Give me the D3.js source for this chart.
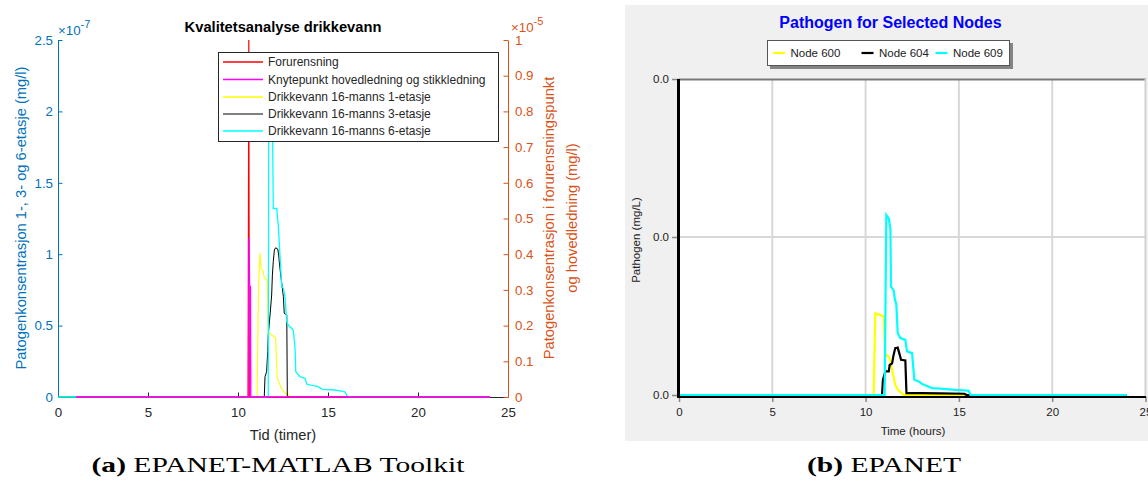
<!DOCTYPE html>
<html><head><meta charset="utf-8">
<script src="https://cdn.jsdelivr.net/npm/d3@7"></script>
<style>
body{margin:0;background:#fff}
svg{display:block}
text{font-family:"Liberation Sans",Arial,Helvetica,sans-serif}
</style>
</head><body>
<svg id="c" width="1148" height="481"></svg>
<script>
// ---------------- DATA ----------------
// Panel (a): EPANET-MATLAB Toolkit (time in hours)
const xTicksA = [0, 5, 10, 15, 20, 25];
const leftTicks = [0, 0.5e-7, 1e-7, 1.5e-7, 2e-7, 2.5e-7];
const leftTickLabels = ["0", "0.5", "1", "1.5", "2", "2.5"];
const rightTicks = [0, 0.1e-5, 0.2e-5, 0.3e-5, 0.4e-5, 0.5e-5, 0.6e-5, 0.7e-5, 0.8e-5, 0.9e-5, 1e-5];
const rightTickLabels = ["0", "0.1", "0.2", "0.3", "0.4", "0.5", "0.6", "0.7", "0.8", "0.9", "1"];
const seriesNamesA = ["Forurensning", "Knytepunkt hovedledning og stikkledning",
  "Drikkevann 16-manns 1-etasje", "Drikkevann 16-manns 3-etasje", "Drikkevann 16-manns 6-etasje"];

// right axis (mg/l)
const forurensningT = [1, 10.56, 10.6, 10.63, 24];
const forurensningV = [0, 0, 1.0e-5, 0, 0];
const knytepunktT = [1, 10.58, 10.61, 10.64, 10.69, 10.71, 24];
const knytepunktV = [0, 0, 0.445e-5, 0.31e-5, 0.31e-5, 0, 0];

// left axis (mg/l)
const etasje1T = [0, 11.06, 11.13, 11.22, 11.28, 11.41, 11.46, 11.63, 11.68, 11.87, 12.09, 12.18, 12.33, 12.52, 12.79, 12.85, 24];
const etasje1V = [0, 0, 0.714e-7, 1.008e-7, 0.903e-7, 0.877e-7, 0.833e-7, 0.819e-7, 0.457e-7, 0.434e-7, 0.413e-7, 0.133e-7, 0.084e-7, 0.037e-7, 0.014e-7, 0, 0];
const etasje3T = [0, 11.46, 11.5, 11.59, 11.65, 11.68, 11.78, 11.87, 11.91, 11.96, 12.02, 12.09, 12.21, 12.26, 12.33, 12.43, 12.52, 12.57, 12.71, 12.74, 24];
const etasje3V = [0, 0, 0.142e-7, 0.177e-7, 0.317e-7, 0.434e-7, 0.574e-7, 0.714e-7, 0.854e-7, 0.947e-7, 1.029e-7, 1.045e-7, 1.036e-7, 0.994e-7, 0.901e-7, 0.796e-7, 0.703e-7, 0.586e-7, 0.574e-7, 0, 0];
const etasje6T = [0, 11.68, 11.71, 11.9, 11.96, 12.15, 12.24, 12.43, 12.52, 12.61, 12.71, 12.79, 13.07, 13.17, 13.21, 13.44, 13.72, 13.82, 14.46, 14.68, 15.39, 15.94, 16.09, 24];
const etasje6V = [0, 0, 2.2e-7, 2.15e-7, 1.32e-7, 1.32e-7, 1.20e-7, 0.772e-7, 0.761e-7, 0.702e-7, 0.527e-7, 0.504e-7, 0.469e-7, 0.343e-7, 0.177e-7, 0.142e-7, 0.131e-7, 0.089e-7, 0.072e-7, 0.054e-7, 0.049e-7, 0.037e-7, 0, 0];

// Panel (b): EPANET
const xTicksB = [0, 5, 10, 15, 20, 25];
const yTicksB = [0, 1e-7, 2e-7];
const yTickLabelsB = ["0.0", "0.0", "0.0"];
const seriesNamesB = ["Node 600", "Node 604", "Node 609"];
const node600T = [0, 10.43, 10.52, 10.75, 10.97, 11.06, 11.24, 11.33, 11.47, 11.59, 11.72, 12.04, 24];
const node600V = [0, 0, 0.517e-7, 0.507e-7, 0.497e-7, 0.254e-7, 0.244e-7, 0.213e-7, 0.128e-7, 0.065e-7, 0.034e-7, 0, 0];
const node604T = [0, 10.88, 10.93, 11.06, 11.24, 11.29, 11.42, 11.5, 11.59, 11.72, 11.83, 11.9, 12.13, 12.19, 13.0, 14.0, 15.3, 15.4, 24];
const node604V = [0, 0, 0.097e-7, 0.15e-7, 0.15e-7, 0.19e-7, 0.20e-7, 0.254e-7, 0.297e-7, 0.30e-7, 0.254e-7, 0.223e-7, 0.219e-7, 0.012e-7, 0.012e-7, 0.01e-7, 0.008e-7, 0, 0];
const node609T = [0, 11.02, 11.11, 11.24, 11.33, 11.36, 11.5, 11.56, 11.65, 11.72, 11.86, 12.13, 12.22, 12.49, 12.61, 12.85, 13.03, 13.26, 13.56, 14.01, 14.81, 15.53, 15.62, 24];
const node609V = [0, 0, 1.138e-7, 1.117e-7, 1.054e-7, 0.686e-7, 0.664e-7, 0.612e-7, 0.57e-7, 0.391e-7, 0.36e-7, 0.349e-7, 0.276e-7, 0.265e-7, 0.097e-7, 0.086e-7, 0.069e-7, 0.059e-7, 0.044e-7, 0.04e-7, 0.033e-7, 0.027e-7, 0, 0];

// ---------------- DRAW ----------------
const svg = d3.select("#c");
svg.append("rect").attr("width", 1148).attr("height", 481).attr("fill", "#fff");
const zip = (T, V) => T.map((t, i) => [t, V[i]]);

// ===== Panel (a) =====
const BLUE = "#0072BD", ORANGE = "#D95319", AX = "#262626";
const xA = d3.scaleLinear().domain([0, 25]).range([58, 508]);
const yL = d3.scaleLinear().domain([0, 2.5e-7]).range([397, 40]);
const yR = d3.scaleLinear().domain([0, 1e-5]).range([397, 40]);
const gA = svg.append("g");

function styleAxis(g, col, fs) {
  g.attr("font-family", null).attr("font-size", null);
  g.selectAll("path.domain").attr("stroke", col).attr("stroke-width", 1);
  g.selectAll(".tick line").attr("stroke", col).attr("stroke-width", 1);
  g.selectAll(".tick text").attr("fill", col).style("font-size", fs + "px");
}

const axB = gA.append("g").attr("transform", "translate(0,397)")
  .call(d3.axisBottom(xA).tickValues(xTicksA).tickSize(-4.5).tickSizeOuter(0).tickPadding(11));
styleAxis(axB, AX, 13.3);
const axL = gA.append("g").attr("transform", "translate(58,0)")
  .call(d3.axisLeft(yL).tickValues(leftTicks).tickSize(-4.5).tickSizeOuter(0).tickPadding(5)
    .tickFormat((d, i) => leftTickLabels[i]));
styleAxis(axL, BLUE, 13.3);
const axR = gA.append("g").attr("transform", "translate(508,0)")
  .call(d3.axisRight(yR).tickValues(rightTicks).tickSize(-4.5).tickSizeOuter(0).tickPadding(7)
    .tickFormat((d, i) => rightTickLabels[i]));
styleAxis(axR, ORANGE, 13.3);

const lineL = d3.line().x(d => xA(d[0])).y(d => yL(d[1]));
const lineR = d3.line().x(d => xA(d[0])).y(d => yR(d[1]));
const colsA = ["#ff0000", "#ff00ff", "#ffff00", "#000000", "#00ffff"];
gA.append("path").attr("d", lineL(zip(etasje1T, etasje1V))).attr("fill", "none").attr("stroke", colsA[2]).attr("stroke-width", 1.1);
gA.append("path").attr("d", lineL(zip(etasje3T, etasje3V))).attr("fill", "none").attr("stroke", colsA[3]).attr("stroke-width", 1);
gA.append("path").attr("d", lineL(zip(etasje6T, etasje6V))).attr("fill", "none").attr("stroke", colsA[4]).attr("stroke-width", 1.3);
gA.append("path").attr("d", lineR(zip(forurensningT, forurensningV))).attr("fill", "none").attr("stroke", colsA[0]).attr("stroke-width", 1.2);
gA.append("path").attr("d", lineR(zip(knytepunktT, knytepunktV))).attr("fill", "none").attr("stroke", colsA[1]).attr("stroke-width", 1.4);

// exponents
function expLabel(x, y, base, exp, col) {
  const t = gA.append("text").attr("x", x).attr("y", y).attr("fill", col).style("font-size", "13.3px");
  t.append("tspan").text(base);
  t.append("tspan").attr("dy", -7).style("font-size", "11px").text(exp);
}
expLabel(58, 34.5, "\u00d710", "-7", BLUE);
expLabel(511, 32, "\u00d710", "-5", ORANGE);

// title
gA.append("text").attr("x", 283).attr("y", 32).attr("text-anchor", "middle")
  .style("font-size", "14.7px").style("font-weight", "bold").attr("fill", "#000")
  .text("Kvalitetsanalyse drikkevann");
// axis labels
gA.append("text").attr("x", 283).attr("y", 440).attr("text-anchor", "middle")
  .style("font-size", "14.7px").attr("fill", AX).text("Tid (timer)");
gA.append("text").attr("transform", "translate(26,218) rotate(-90)").attr("text-anchor", "middle")
  .style("font-size", "14.7px").attr("fill", BLUE).text("Patogenkonsentrasjon 1-, 3- og 6-etasje (mg/l)");
gA.append("text").attr("transform", "translate(554,218) rotate(-90)").attr("text-anchor", "middle")
  .style("font-size", "14.7px").attr("fill", ORANGE).text("Patogenkonsentrasjon i forurensningspunkt");
gA.append("text").attr("transform", "translate(577,218) rotate(-90)").attr("text-anchor", "middle")
  .style("font-size", "14.7px").attr("fill", ORANGE).text("og hovedledning (mg/l)");

// legend
const lgA = gA.append("g");
lgA.append("rect").attr("x", 218.5).attr("y", 52.5).attr("width", 280).attr("height", 89)
  .attr("fill", "#fff").attr("stroke", AX).attr("stroke-width", 1);
const lgY = [62, 79.5, 97, 114, 131];
seriesNamesA.forEach((n, i) => {
  lgA.append("line").attr("x1", 223).attr("x2", 263).attr("y1", lgY[i]).attr("y2", lgY[i])
    .attr("stroke", colsA[i]).attr("stroke-width", i === 3 ? 1 : 1.3);
  lgA.append("text").attr("x", 268).attr("y", lgY[i] + 4.3).style("font-size", "12px")
    .attr("fill", AX).text(n);
});

// ===== Panel (b) =====
const xB = d3.scaleLinear().domain([0, 25]).range([679, 1145.5]);
const yB = d3.scaleLinear().domain([0, 2e-7]).range([395, 79]);
const gB = svg.append("g");
gB.append("rect").attr("x", 625).attr("y", 5).attr("width", 523).attr("height", 436).attr("fill", "#f0f0f0");
gB.append("rect").attr("x", 679).attr("y", 79).attr("width", 468).attr("height", 318).attr("fill", "#fff");
// grid
gB.selectAll("line.vg").data(xTicksB.filter(d => d > 0 && d < 25)).enter().append("line")
  .attr("x1", d => xB(d)).attr("x2", d => xB(d)).attr("y1", 80).attr("y2", 396)
  .attr("stroke", "#d8d8d8").attr("stroke-width", 2);
gB.selectAll("line.hg").data(yTicksB.filter(d => d > 0 && d < 2e-7)).enter().append("line")
  .attr("x1", 680).attr("x2", 1146).attr("y1", d => yB(d)).attr("y2", d => yB(d))
  .attr("stroke", "#d8d8d8").attr("stroke-width", 2);
// frame top/right
gB.append("line").attr("x1", 679).attr("x2", 1146).attr("y1", 79.5).attr("y2", 79.5).attr("stroke", "#7a7a7a").attr("stroke-width", 2);
gB.append("line").attr("x1", xB(25)).attr("x2", xB(25)).attr("y1", 79).attr("y2", 397).attr("stroke", "#d0d0d0").attr("stroke-width", 2);

const axBy = gB.append("g").attr("transform", "translate(679,0)")
  .call(d3.axisLeft(yB).tickValues(yTicksB).tickSize(7).tickSizeOuter(0).tickPadding(3)
    .tickFormat((d, i) => yTickLabelsB[i]));
axBy.attr("font-family", null).attr("font-size", null);
axBy.select("path.domain").remove();
axBy.selectAll(".tick line").attr("stroke", "#8a8a8a").attr("stroke-width", 1.5);
axBy.selectAll(".tick text").attr("fill", "#222").style("font-size", "11.5px");

const axBx = gB.append("g").attr("transform", "translate(0,397)")
  .call(d3.axisBottom(xB).tickValues(xTicksB).tickSize(5).tickSizeOuter(0).tickPadding(6));
axBx.attr("font-family", null).attr("font-size", null);
axBx.select("path.domain").remove();
axBx.selectAll(".tick line").attr("stroke", "#8a8a8a").attr("stroke-width", 1.5);
axBx.selectAll(".tick text").attr("fill", "#222").style("font-size", "11.5px");

const lineB = d3.line().x(d => xB(d[0])).y(d => yB(d[1]));
const colsB = ["#ffff00", "#000000", "#00ffff"];
[[node600T, node600V], [node604T, node604V], [node609T, node609V]].forEach((s, i) => {
  gB.append("path").attr("d", lineB(zip(s[0], s[1]))).attr("fill", "none")
    .attr("stroke", colsB[i]).attr("stroke-width", 2.2).attr("stroke-linejoin", "miter");
});
// axis lines (black)
gB.append("line").attr("x1", 678.5).attr("x2", 678.5).attr("y1", 79).attr("y2", 398).attr("stroke", "#000").attr("stroke-width", 3);
gB.append("line").attr("x1", 677).attr("x2", 1146).attr("y1", 397).attr("y2", 397).attr("stroke", "#000").attr("stroke-width", 2);

gB.append("text").attr("x", 890.5).attr("y", 28).attr("text-anchor", "middle")
  .style("font-size", "16px").style("font-weight", "bold").attr("fill", "#0000ff")
  .text("Pathogen for Selected Nodes");
gB.append("text").attr("transform", "translate(640,240) rotate(-90)").attr("text-anchor", "middle")
  .style("font-size", "11.5px").attr("fill", "#222").text("Pathogen (mg/L)");
gB.append("text").attr("x", 913).attr("y", 435).attr("text-anchor", "middle")
  .style("font-size", "11.5px").attr("fill", "#222").text("Time (hours)");

// legend b
gB.append("rect").attr("x", 770).attr("y", 43).attr("width", 243).attr("height", 26).attr("fill", "#6a6a6a").attr("opacity", 0.8);
gB.append("rect").attr("x", 767.5).attr("y", 40.5).attr("width", 242).attr("height", 25).attr("fill", "#fff").attr("stroke", "#555").attr("stroke-width", 1);
const lgBx = [773, 861.5, 935.5];
seriesNamesB.forEach((n, i) => {
  gB.append("line").attr("x1", lgBx[i]).attr("x2", lgBx[i] + 12).attr("y1", 53).attr("y2", 53)
    .attr("stroke", colsB[i]).attr("stroke-width", 2.2);
  gB.append("text").attr("x", lgBx[i] + 17.5).attr("y", 57).style("font-size", "11.5px").attr("fill", "#222").text(n);
});

// ===== Captions =====
function caption(cx, lab, rest) {
  const t = svg.append("text").attr("x", cx).attr("y", 472).attr("text-anchor", "middle")
    .style("font-family", "'Liberation Serif','Times New Roman',serif").style("font-size", "22px").attr("fill", "#000");
  t.append("tspan").style("font-weight", "bold").text(lab);
  t.append("tspan").text(" " + rest);
  return t;
}
const capA = caption(278, "(a)", "EPANET-MATLAB Toolkit");
const capB = caption(884, "(b)", "EPANET");
const la = capA.node().getComputedTextLength();
const s = 373 / la;
capA.attr("textLength", 373).attr("lengthAdjust", "spacingAndGlyphs");
const lb = capB.node().getComputedTextLength();
capB.attr("textLength", lb * s).attr("lengthAdjust", "spacingAndGlyphs");
</script>
</body></html>
